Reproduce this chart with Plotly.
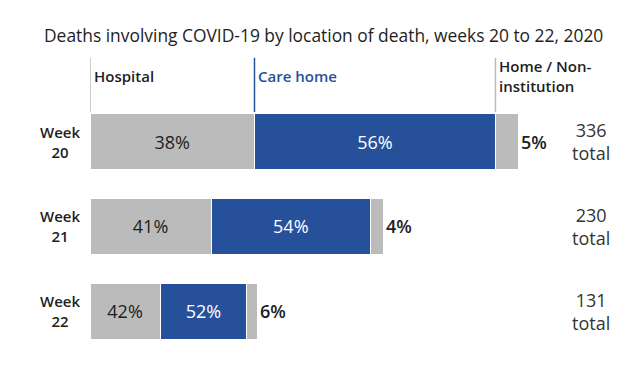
import plotly.graph_objects as go

# ---- data ----
week_labels = ["Week<br>20", "Week<br>21", "Week<br>22"]
hospital = [129, 95, 55]
care_home = [189, 125, 68]
home = [18, 10, 8]
totals = [336, 230, 131]
header_labels = ["Hospital", "Care home", "Home / Non-<br>institution"]
title_text = "Deaths involving COVID-19 by location of death, weeks 20 to 22, 2020"

GREY = "#BBBBBB"
BLUE = "#27509B"
DARK = "#1E1E1E"
FONT = "Open Sans"

ypos = list(range(len(week_labels)))

def pct(vals):
    return [f"{round(100 * v / t)}%" for v, t in zip(vals, totals)]

fig = go.Figure()
fig.add_trace(go.Bar(
    y=ypos, x=hospital, orientation="h", marker=dict(color=GREY, line=dict(color="white", width=1)),
    text=pct(hospital), textposition="inside", insidetextanchor="middle",
    textfont=dict(family=FONT, size=18, color=DARK), width=0.66, hoverinfo="skip"))
fig.add_trace(go.Bar(
    y=ypos, x=care_home, orientation="h", marker=dict(color=BLUE, line=dict(color="white", width=1)),
    text=pct(care_home), textposition="inside", insidetextanchor="middle",
    textfont=dict(family=FONT, size=18, color="white"), width=0.66, hoverinfo="skip"))
fig.add_trace(go.Bar(
    y=ypos, x=home, orientation="h", marker=dict(color=GREY, line=dict(color="white", width=1)),
    width=0.66, hoverinfo="skip"))

annotations = []
# outside labels for home segment
for i, (v, t) in enumerate(zip(pct(home), totals)):
    annotations.append(dict(x=t, y=i, xref="x", yref="y", text=v, showarrow=False,
                            xanchor="left", yanchor="middle", xshift=1,
                            font=dict(family=FONT, size=18, color=DARK, weight=600)))
# totals
for i, t in enumerate(totals):
    annotations.append(dict(x=0.982, y=i, xref="paper", yref="y", text=f"{t}<br>total",
                            showarrow=False, xanchor="center", yanchor="middle", align="center",
                            font=dict(family=FONT, size=18, color="#333333")))
# week labels
for i, lab in enumerate(week_labels):
    annotations.append(dict(x=-0.0157, y=i, xref="paper", yref="y", text=lab,
                            showarrow=False, xanchor="right", yanchor="middle", align="center",
                            font=dict(family=FONT, size=15, color=DARK, weight=600)))

# headers & vertical lines at week-20 boundaries
bounds = [0, hospital[0], hospital[0] + care_home[0]]
hcolors = [GREY, BLUE, GREY]
tcolors = [DARK, BLUE, DARK]
shapes = []
for b, lab, lc, tc in zip(bounds, header_labels, hcolors, tcolors):
    shapes.append(dict(type="line", xref="x", yref="y", x0=b, x1=b, y0=-0.99, y1=-0.35,
                       line=dict(color=lc, width=1.5)))
    annotations.append(dict(x=b, y=-0.77, xref="x", yref="y", text=lab, showarrow=False,
                            xanchor="left", yanchor="middle", align="left", xshift=2,
                            font=dict(family=FONT, size=15, color=tc, weight=600)))

annotations.append(dict(x=0.457, y=1.072, xref="paper", yref="paper", text=title_text,
                        showarrow=False, xanchor="center", yanchor="middle",
                        font=dict(family=FONT, size=17.4, color=DARK)))

fig.update_layout(
    width=640, height=386, barmode="stack", showlegend=False,
    margin=dict(l=82, r=48, t=49, b=32),
    paper_bgcolor="white", plot_bgcolor="white",
    xaxis=dict(range=[0, 400], visible=False),
    yaxis=dict(range=[2.6, -1.0], visible=False),
    uniformtext=dict(mode=False),
    annotations=annotations, shapes=shapes,
)

fig.write_html("out.html")
